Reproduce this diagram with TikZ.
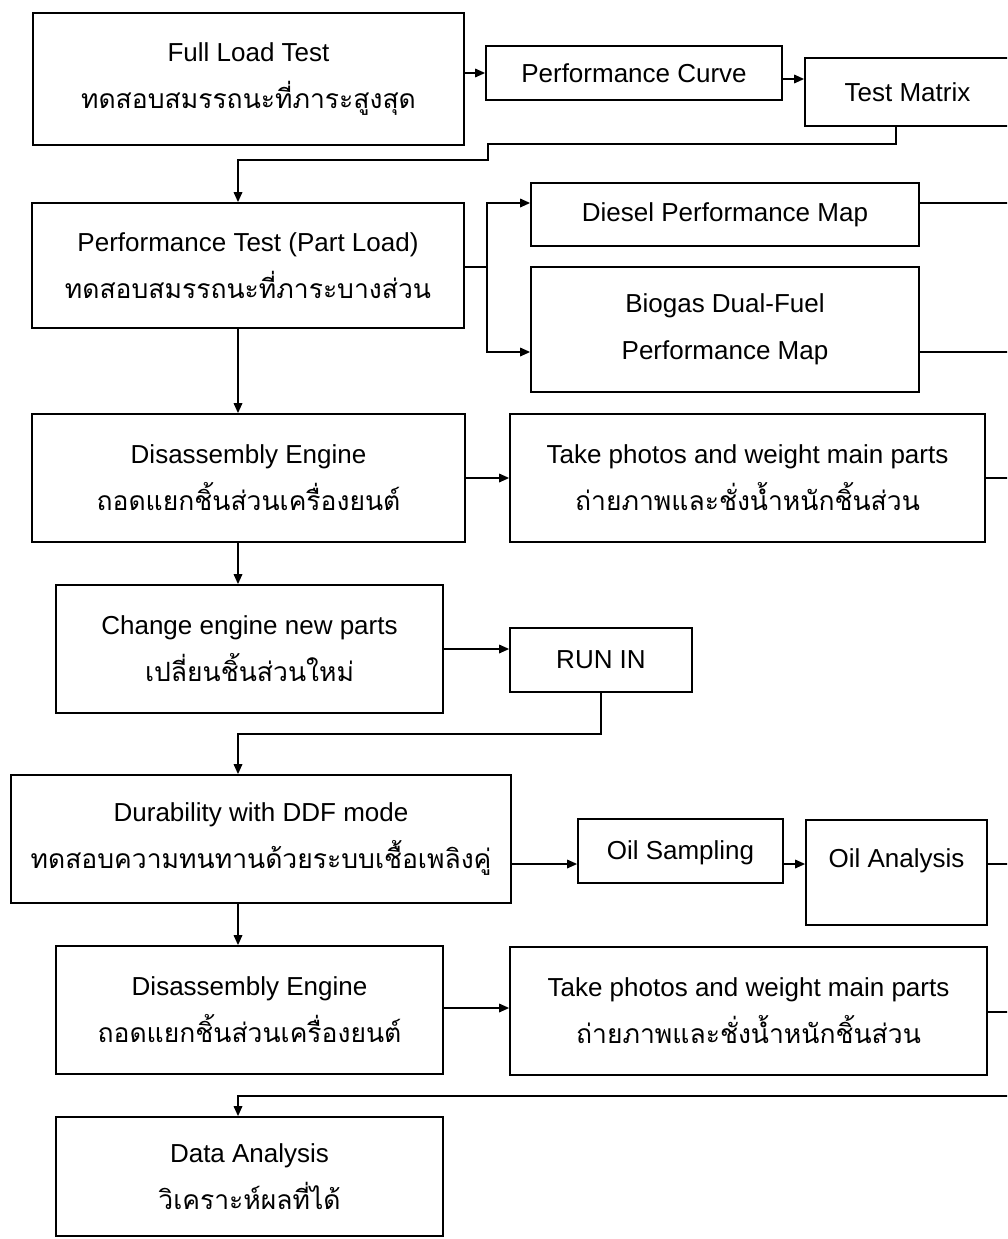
\documentclass[tikz,border=0pt]{standalone}
\usepackage{fontspec}
\setmainfont{Liberation Sans}
\newfontfamily\thaifnt[Script=Thai]{Loma}
\usetikzlibrary{arrows.meta}
\newcommand\enfnt{\fontsize{26}{47}\selectfont}
\newcommand\thtxt[1]{{\thaifnt\fontsize{26.5}{47}\selectfont #1}}
\begin{document}
\begin{tikzpicture}[x=1pt,y=-1pt,
  box/.style={draw,line width=1.7pt,inner sep=0pt,align=center,font=\enfnt},
  conn/.style={line width=1.7pt},
  arr/.style={line width=1.7pt,-{Triangle[length=10pt,width=8.5pt]}}]
\useasboundingbox (0,0) rectangle (1007,1239);
\clip (0,0) rectangle (1007,1239);
\fill[white] (0,0) rectangle (1007,1239);
\coordinate (spine) at (238,0);
% boxes
\node[box,minimum width=431pt,minimum height=132pt] (full) at (248.5,79) {Full Load Test\\\thtxt{ทดสอบสมรรถนะที่ภาระสูงสุด}};
\node[box,minimum width=296pt,minimum height=54pt] (pc) at (634,73) {Performance Curve};
\node[box,minimum width=205pt,minimum height=68pt] (tm) at (907.5,92) {Test Matrix};
\node[box,minimum width=432pt,minimum height=125pt] (pt) at (248,265.5) {Performance Test (Part Load)\\\thtxt{ทดสอบสมรรถนะที่ภาระบางส่วน}};
\node[box,minimum width=388pt,minimum height=63pt] (diesel) at (725,214.5) {Diesel Performance Map};
\node[box,minimum width=388pt,minimum height=125pt] (biogas) at (725,329.5) {\fontsize{26}{55}\selectfont Biogas Dual-Fuel\\Performance Map};
\node[box,minimum width=433pt,minimum height=128pt] (dis1) at (248.5,478) {Disassembly Engine\\\thtxt{ถอดแยกชิ้นส่วนเครื่องยนต์}};
\node[box,minimum width=475pt,minimum height=128pt] (ph1) at (747.5,478) {Take photos and weight main parts\\\thtxt{ถ่ายภาพและชั่งน้ำหนักชิ้นส่วน}};
\node[box,minimum width=387pt,minimum height=128pt] (chg) at (249.5,649) {Change engine new parts\\\thtxt{เปลี่ยนชิ้นส่วนใหม่}};
\node[box,minimum width=182pt,minimum height=64pt] (run) at (601,660) {RUN IN};
\node[box,minimum width=500pt,minimum height=128pt] (dur) at (261,839) {Durability with DDF mode\\\thtxt{ทดสอบความทนทานด้วยระบบเชื้อเพลิงคู่}};
\node[box,minimum width=205pt,minimum height=64pt,text height=19pt,text depth=3pt] (os) at (680.5,851) {Oil Sampling};
\node[box,minimum width=181pt,minimum height=105pt,text height=19pt,text depth=30pt] (oa) at (896.5,872.5) {Oil Analysis};
\node[box,minimum width=387pt,minimum height=128pt] (dis2) at (249.5,1010) {Disassembly Engine\\\thtxt{ถอดแยกชิ้นส่วนเครื่องยนต์}};
\node[box,minimum width=477pt,minimum height=128pt] (ph2) at (748.5,1011) {Take photos and weight main parts\\\thtxt{ถ่ายภาพและชั่งน้ำหนักชิ้นส่วน}};
\node[box,minimum width=387pt,minimum height=119pt] (da) at (249.5,1176.5) {Data Analysis\\\thtxt{วิเคราะห์ผลที่ได้}};
% edge coordinates (lines leaving the picture on the right)
\coordinate (eDiesel) at (1012,203);
\coordinate (eBio) at (1012,352);
\coordinate (ePh1) at (1012,478);
\coordinate (eOA) at (1012,864);
\coordinate (ePh2) at (1012,1012);
\coordinate (eBot) at (1012,1096);
\coordinate (br) at (487,267);
% connectors
\draw[arr] (full.east |- pc.west) -- (pc.west);
\draw[arr] ([yshift=-6pt]pc.east) -- ([yshift=-6pt]pc.east -| tm.west);
\draw[arr] ([xshift=-11.5pt]tm.south) |- (488,144) |- (238,160) -- (pt.north -| spine);
\draw[conn] (pt.east |- br) -- (br);
\draw[arr] (br) |- ([yshift=11.5pt]diesel.west);
\draw[arr] (br) |- ([yshift=-22.5pt]biogas.west);
\draw[conn] ([yshift=11.5pt]diesel.east) -- (eDiesel);
\draw[conn] ([yshift=-22.5pt]biogas.east) -- (eBio);
\draw[arr] (pt.south -| spine) -- (dis1.north -| spine);
\draw[arr] (dis1.east) -- (ph1.west);
\draw[conn] (ph1.east) -- (ePh1);
\draw[arr] (dis1.south -| spine) -- (chg.north -| spine);
\draw[arr] (chg.east) -- (chg.east -| run.west);
\draw[arr] (run.south) |- (238,734) -- (dur.north -| spine);
\draw[arr] ([yshift=-13pt]os.west -| dur.east) -- ([yshift=-13pt]os.west);
\draw[arr] ([yshift=-13pt]os.east) -- ([yshift=-13pt]os.east -| oa.west);
\draw[conn] (oa.east |- eOA) -- (eOA);
\draw[arr] (dur.south -| spine) -- (dis2.north -| spine);
\draw[arr] ([yshift=2pt]dis2.east) -- ([yshift=2pt]dis2.east -| ph2.west);
\draw[conn] (ph2.east |- ePh2) -- (ePh2);
\draw[arr] (eBot) -- (eBot -| spine) -- (da.north -| spine);
\end{tikzpicture}
\end{document}
